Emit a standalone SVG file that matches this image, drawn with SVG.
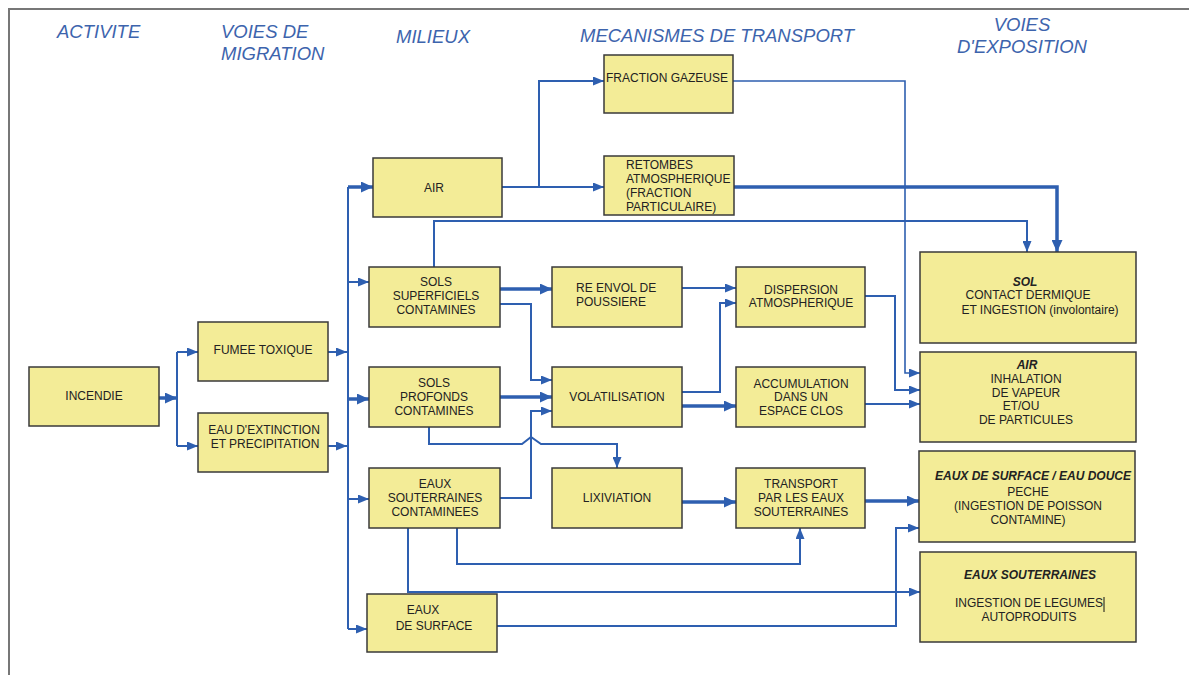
<svg xmlns="http://www.w3.org/2000/svg" width="1189" height="675" viewBox="0 0 1189 675">
<style>
.h{font-family:"Liberation Sans",Arial,sans-serif;font-style:italic;font-size:18.5px;fill:#3d64ad}
.b rect{fill:#f3ec97;stroke:#3a3a3a;stroke-width:1.5}
.b text{font-family:"Liberation Sans",Arial,sans-serif;font-size:12px;fill:#222;text-anchor:middle}
.b text.l{text-anchor:start}
.b text.bi{font-weight:bold;font-style:italic}
#connectors path{fill:none;stroke:#2e5fb0;stroke-linejoin:miter}
#connectors .c{stroke-width:2}
#connectors .t{stroke-width:3.5}
#connectors .f{stroke-width:1.6}
#connectors .a{marker-end:url(#ar)}
#connectors .ta{marker-end:url(#art)}
</style>
<defs>
<marker id="ar" markerUnits="userSpaceOnUse" markerWidth="11" markerHeight="9" refX="11" refY="4.5" orient="auto">
<path d="M0,0 L11,4.5 L0,9 z" fill="#2e5fb0"/>
</marker>
<marker id="art" markerUnits="userSpaceOnUse" markerWidth="12" markerHeight="11" refX="12" refY="5.5" orient="auto">
<path d="M0,0 L12,5.5 L0,11 z" fill="#2e5fb0"/>
</marker>
</defs>
<rect width="1189" height="675" fill="#fff"/>
<path d="M9,675 V9 H1189" fill="none" stroke="#777" stroke-width="2"/>
<g id="headers">
<text class="h" x="57" y="38">ACTIVITE</text>
<text class="h" x="221" y="38">VOIES DE</text>
<text class="h" x="221" y="60">MIGRATION</text>
<text class="h" x="396" y="43">MILIEUX</text>
<text class="h" x="580" y="42">MECANISMES DE TRANSPORT</text>
<text class="h" x="1022" y="31" text-anchor="middle">VOIES</text>
<text class="h" x="1022" y="53" text-anchor="middle">D'EXPOSITION</text>
</g>
<g id="connectors">
<path class="t ta" d="M159,398 H177"/>
<path class="c" d="M177,352 V446"/>
<path class="c a" d="M177,352 H198"/>
<path class="c a" d="M177,446 H198"/>
<path class="c a" d="M328,352 H347"/>
<path class="c a" d="M328,446 H347"/>
<path class="c" d="M348,187 V629"/>
<path class="t ta" d="M348,187 H373"/>
<path class="c a" d="M348,282 H369"/>
<path class="t ta" d="M348,399 H369"/>
<path class="c a" d="M348,499 H369"/>
<path class="c a" d="M348,629 H367"/>
<path class="c a" d="M502,187 H604"/>
<path class="c a" d="M539,187 V81 H604"/>
<path class="f a" d="M733,81 H905 V373 H920"/>
<path class="t ta" d="M733,187 H1057 V252"/>
<path class="c a" d="M434,267 V221 H1027 V252"/>
<path class="t ta" d="M500,289 H552"/>
<path class="c a" d="M500,304 H531 V380 H552"/>
<path class="t ta" d="M500,397 H552"/>
<path class="c a" d="M500,498 H531 V411 H552"/>
<path class="c a" d="M429,427 V444 H522 L531,437 L541,444 H617 V468"/>
<path class="c a" d="M682,288 H736"/>
<path class="c a" d="M682,392 H720 V303 H736"/>
<path class="t ta" d="M682,406 H736"/>
<path class="c a" d="M865,296 H895 V390 H920"/>
<path class="c a" d="M865,404 H920"/>
<path class="t ta" d="M682,502 H736"/>
<path class="t ta" d="M865,501 H919"/>
<path class="c a" d="M457,528 V564 H800 V528"/>
<path class="c a" d="M408,528 V592 H920"/>
<path class="c a" d="M497,626 H896 V528 H919"/>
</g>
<g id="n-incendie" class="b"><rect x="29" y="367" width="130" height="59"/><text x="94" y="400">INCENDIE</text></g>
<g id="n-fumee" class="b"><rect x="198" y="322" width="130" height="59"/><text x="263" y="354">FUMEE TOXIQUE</text></g>
<g id="n-eau-ext" class="b"><rect x="198" y="413" width="130" height="59"/><text x="264" y="434">EAU D'EXTINCTION</text><text x="265" y="448">ET PRECIPITATION</text></g>
<g id="n-air" class="b"><rect x="373" y="158" width="129" height="59"/><text x="434" y="192">AIR</text></g>
<g id="n-sols-sup" class="b"><rect x="369" y="267" width="131" height="60"/><text x="436" y="286">SOLS</text><text x="436" y="300">SUPERFICIELS</text><text x="436" y="314">CONTAMINES</text></g>
<g id="n-sols-prof" class="b"><rect x="369" y="367" width="131" height="60"/><text x="434" y="387">SOLS</text><text x="434" y="401">PROFONDS</text><text x="434" y="415">CONTAMINES</text></g>
<g id="n-eaux-sout" class="b"><rect x="369" y="468" width="131" height="60"/><text x="435" y="488">EAUX</text><text x="435" y="502">SOUTERRAINES</text><text x="435" y="516">CONTAMINEES</text></g>
<g id="n-eaux-surf" class="b"><rect x="367" y="594" width="130" height="58"/><text x="423" y="614">EAUX</text><text x="434" y="630">DE SURFACE</text></g>
<g id="n-fraction" class="b"><rect x="604" y="55" width="129" height="58"/><text class="l" x="606" y="82">FRACTION GAZEUSE</text></g>
<g id="n-retombes" class="b"><rect x="604" y="156" width="130" height="59"/><text class="l" x="626" y="169">RETOMBES</text><text class="l" x="626" y="183">ATMOSPHERIQUE</text><text class="l" x="626" y="197">(FRACTION</text><text class="l" x="626" y="211">PARTICULAIRE)</text></g>
<g id="n-envol" class="b"><rect x="552" y="267" width="130" height="60"/><text class="l" x="576" y="292">RE ENVOL DE</text><text class="l" x="576" y="306">POUSSIERE</text></g>
<g id="n-volat" class="b"><rect x="552" y="367" width="130" height="60"/><text x="617" y="401">VOLATILISATION</text></g>
<g id="n-lixiv" class="b"><rect x="552" y="468" width="130" height="60"/><text x="617" y="502">LIXIVIATION</text></g>
<g id="n-dispersion" class="b"><rect x="736" y="267" width="129" height="60"/><text x="801" y="294">DISPERSION</text><text x="801" y="307">ATMOSPHERIQUE</text></g>
<g id="n-accum" class="b"><rect x="736" y="367" width="129" height="60"/><text x="801" y="388">ACCUMULATION</text><text x="801" y="401">DANS UN</text><text x="801" y="415">ESPACE CLOS</text></g>
<g id="n-transport" class="b"><rect x="736" y="468" width="129" height="60"/><text x="801" y="488">TRANSPORT</text><text x="801" y="502">PAR LES EAUX</text><text x="801" y="516">SOUTERRAINES</text></g>
<g id="n-exp-sol" class="b"><rect x="920" y="252" width="216" height="91"/><text class="bi" x="1025" y="286">SOL</text><text x="1028" y="299">CONTACT DERMIQUE</text><text x="1040" y="314">ET INGESTION (involontaire)</text></g>
<g id="n-exp-air" class="b"><rect x="920" y="352" width="216" height="90"/><text class="bi" x="1027" y="369">AIR</text><text x="1026" y="383">INHALATION</text><text x="1026" y="397">DE VAPEUR</text><text x="1021" y="410">ET/OU</text><text x="1026" y="424">DE PARTICULES</text></g>
<g id="n-exp-surf" class="b"><rect x="919" y="451" width="216" height="91"/><text class="bi" x="1033" y="480">EAUX DE SURFACE / EAU DOUCE</text><text x="1028" y="496">PECHE</text><text x="1028" y="510">(INGESTION DE POISSON</text><text x="1028" y="524">CONTAMINE)</text></g>
<g id="n-exp-sout" class="b"><rect x="920" y="552" width="216" height="90"/><text class="bi" x="1030" y="579">EAUX SOUTERRAINES</text><text x="1029" y="607">INGESTION DE LEGUMES</text><text x="1029" y="621">AUTOPRODUITS</text><path d="M1104,597 V612" stroke="#111" stroke-width="1"/></g>
</svg>
